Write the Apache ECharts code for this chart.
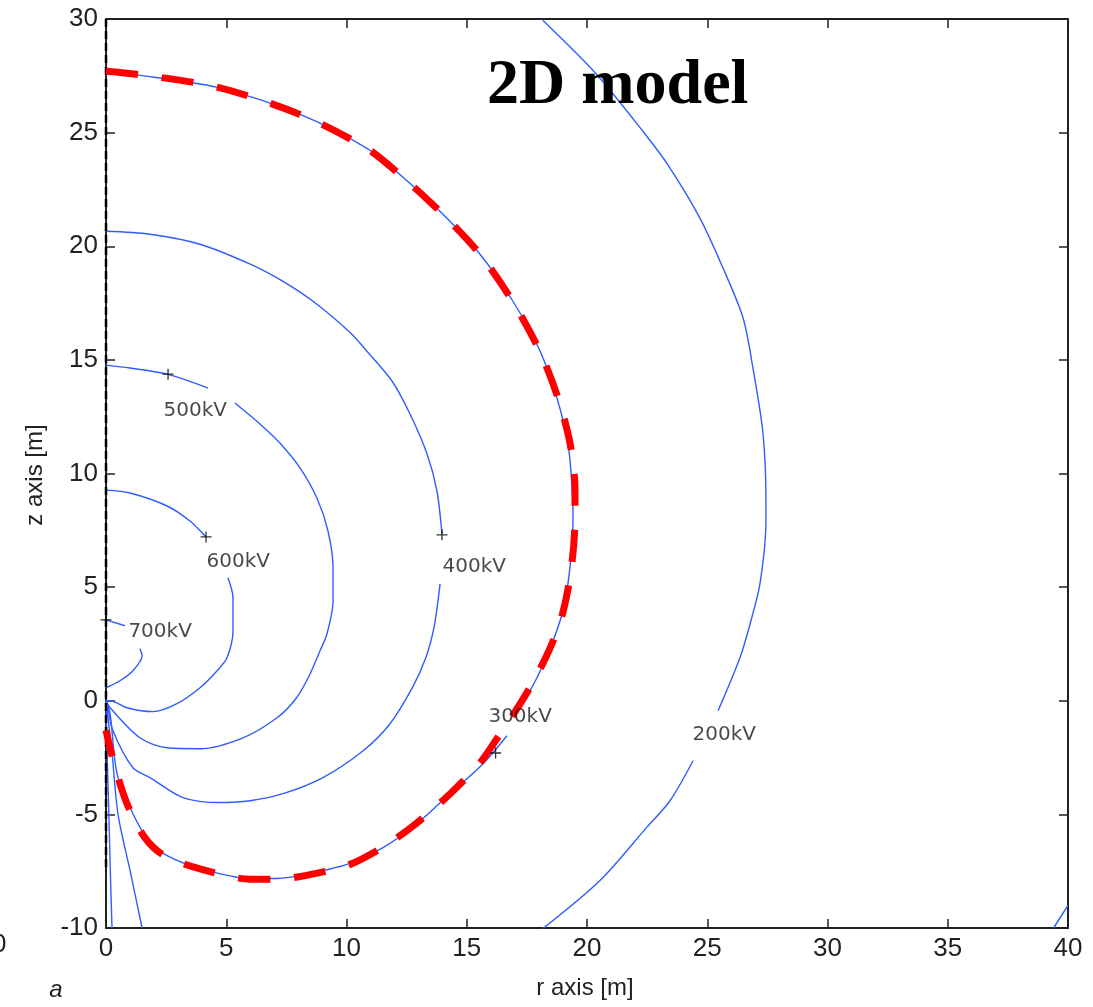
<!DOCTYPE html>
<html>
<head>
<meta charset="utf-8">
<title>2D model</title>
<script src="https://cdn.jsdelivr.net/npm/echarts@6/dist/echarts.min.js"></script>
<style>
  html, body { margin: 0; padding: 0; background: #fff; }
  #chart { width: 1093px; height: 1007px; }
</style>
</head>
<body>
<div id="chart"></div>
<script>
// contour lines, [r, z] in metres; null = gap where a label sits
const c700 = [[0, 3.56], [0.79, 3.30], null, [1.41, 2.29], [1.50, 1.98], [1.12, 1.32], [0.58, 0.88], [0, 0.57]];
const c600 = [[0, 9.27], [1.00, 9.14], [2.54, 8.57], [3.49, 7.91], [4.16, 7.21], null,
  [5.07, 5.41], [5.28, 4.53], [5.28, 3.08], [5.03, 1.89], [4.62, 1.32], [3.91, 0.57],
  [2.95, -0.13], [1.95, -0.48], [0.87, -0.31], [0.17, 0], [0, 0]];
const c500 = [[0, 14.77], [1.00, 14.64], [2.54, 14.37], [4.24, 13.76], null,
  [5.36, 13.10], [6.40, 12.18], [7.23, 11.34], [8.07, 10.24], [8.77, 8.92], [9.23, 7.47],
  [9.44, 5.85], [9.44, 4.40], [9.19, 2.95], [8.9, 2.2], [8.45, 1.1], [7.9, 0.1],
  [7.11, -0.75], [5.70, -1.63], [3.91, -2.11], [2.54, -2.07], [1.41, -1.63], [0.17, -0.31], [0, 0]];
const c400 = [[0, 20.66], [1.83, 20.53], [3.91, 20.09], [6.00, 19.21], [7.36, 18.45], [8.77, 17.45],
  [10.15, 16.2], [10.85, 15.38], [11.89, 14.07], [12.64, 12.62], [13.35, 10.86], [13.76, 9.23],
  [13.97, 7.34], null, [13.89, 5.14], [13.65, 3.3], [13.3, 1.9], [12.75, 0.6], [11.81, -1.01],
  [10.69, -2.20], [9.02, -3.38], [7.36, -4.09], [5.99, -4.40], [4.74, -4.48], [3.20, -4.26],
  [1.83, -3.38], [1.12, -2.95], [0.29, -1.32], [0.04, -0.13], [0, 0]];
const c300 = [[0, 27.65], [1.41, 27.52], [4.62, 26.99], [8.07, 25.80], [10.85, 24.31], [12.22, 23.16],
  [14.01, 21.41], [15.55, 19.65], [16.92, 17.58], [18.05, 15.38], [18.75, 13.32], [19.21, 11.30],
  [19.38, 9.36], [19.42, 8.04], [19.29, 5.85], [19.00, 3.96], [18.54, 2.51], [17.92, 1.01],
  [17.21, -0.31], null, [16.67, -1.54], [15.68, -2.77], [14.30, -4.09], [12.93, -5.41],
  [11.52, -6.46], [10.15, -7.16], [8.48, -7.60], [7.11, -7.82], [5.99, -7.82], [3.91, -7.38],
  [2.54, -6.81], [1.83, -6.24], [1.12, -4.97], [0.46, -3.21], [0.17, -0.57], [0, 0]];
const c200 = [[18.17, 29.93], [20.4, 27.56], [22.33, 25.05], [23.35, 23.6], [24.70, 21.23],
  [25.66, 19.03], [26.49, 16.84], [26.90, 14.64], [27.32, 11.74], [27.44, 8.79], [27.44, 7.91],
  [27.19, 5.14], [26.78, 3.38], [26.36, 1.89], [25.45, -0.44], null, [24.41, -2.64],
  [23.45, -4.40], [22.5, -5.55], [20.54, -7.91], [18.17, -10.02]];
const c200low = [[0, 0], [0.25, -2.3], [0.5, -5.0], [1.0, -7.47], [1.50, -10.0]];
const c100low = [[0, 0], [0.05, -2.5], [0.12, -5.0], [0.18, -7.5], [0.25, -10.0]];
const c100far = [[39.4, -10.0], [40, -9.0]];

// red dashed boundary drawn over the 300 kV line
const boundary = [[0, 27.7], [1.41, 27.55], [4.62, 27.0], [8.07, 25.8], [10.85, 24.3], [12.22, 23.15],
  [14.01, 21.4], [15.55, 19.65], [16.92, 17.55], [18.05, 15.35], [18.8, 13.3], [19.3, 11.3],
  [19.5, 9.3], [19.5, 8.0], [19.35, 5.85], [19.0, 3.9], [18.5, 2.4], [17.8, 0.9], [17.0, -0.5],
  [16.3, -1.6], [15.5, -2.8], [14.3, -4.1], [12.9, -5.4], [11.5, -6.45], [10.15, -7.2],
  [8.48, -7.65], [7.11, -7.85], [5.99, -7.85], [3.91, -7.4], [2.4, -6.8], [1.6, -6.0],
  [0.9, -4.6], [0.45, -3.2], [0.15, -2.0], [0, -1.3]];

const symLine = [[0, 30], [0, -7.5]];

const plusPts = [[0, 3.56], [2.58, 14.37], [4.16, 7.21], [13.97, 7.3], [16.2, -2.3]];
const labelPts = [[2.37, 12.75, '500kV'], [4.16, 6.1, '600kV'], [0.91, 3.05, '700kV'],
  [13.97, 5.9, '400kV'], [15.88, -0.72, '300kV'], [24.37, -1.5, '200kV']];

const xTicks = [0, 40, 5];
const yTicks = [-10, 30, 5];

const blue = '#2f5dff';

function splitSeg(arr) {
  const out = [];
  let cur = [];
  arr.forEach(p => {
    if (p === null) { out.push(cur); cur = []; } else cur.push(p);
  });
  out.push(cur);
  return out;
}

const series = [];
[c700, c600, c500, c400, c300, c200, c200low, c100low, c100far].forEach(c => {
  splitSeg(c).forEach(seg => {
    series.push({
      type: 'line', data: seg, showSymbol: false, symbol: 'none', z: 2, smooth: 0.3,
      lineStyle: { color: blue, width: 1.4 }
    });
  });
});
series.push({
  type: 'line', data: symLine, symbol: 'none', z: 3,
  lineStyle: { color: '#000', width: 2.5, type: [8, 4] }
});
series.push({
  type: 'line', data: boundary, symbol: 'none', z: 4, smooth: 0.3,
  lineStyle: { color: '#ff0000', width: 7, type: [32, 24] }
});
series.push({
  type: 'scatter', data: plusPts, z: 5,
  symbol: 'path://M5,0L5,10M0,5L10,5', symbolSize: 11,
  itemStyle: { color: 'transparent', borderColor: '#000', borderWidth: 1.3 }
});
series.push({
  type: 'scatter', data: labelPts, z: 5, symbolSize: 1,
  itemStyle: { color: 'transparent' },
  label: {
    show: true, position: 'right', distance: 0,
    formatter: p => p.data[2],
    fontFamily: 'DejaVu Sans', fontSize: 20, color: '#1a1a1a'
  }
});

const axisCommon = {
  type: 'value', splitLine: { show: false },
  axisLine: { show: true, onZero: false, lineStyle: { color: '#222', width: 2 } },
  axisTick: { show: true, inside: true, length: 9, lineStyle: { color: '#222', width: 1.5 } }
};

const chart = echarts.init(document.getElementById('chart'), null, { renderer: 'canvas' });
chart.setOption({
  animation: false,
  backgroundColor: '#fff',
  grid: { left: 106, right: 25, top: 19, bottom: 79, containLabel: false },
  xAxis: [
    Object.assign({}, axisCommon, {
      position: 'bottom', min: xTicks[0], max: xTicks[1], interval: xTicks[2],
      axisLabel: { margin: 8, fontFamily: 'Liberation Sans', fontSize: 26, color: '#222' }
    }),
    Object.assign({}, axisCommon, {
      position: 'top', min: xTicks[0], max: xTicks[1], interval: xTicks[2],
      axisLabel: { show: false }
    })
  ],
  yAxis: [
    Object.assign({}, axisCommon, {
      position: 'left', min: yTicks[0], max: yTicks[1], interval: yTicks[2],
      axisLabel: { margin: 8, fontFamily: 'Liberation Sans', fontSize: 26, color: '#222' }
    }),
    Object.assign({}, axisCommon, {
      position: 'right', min: yTicks[0], max: yTicks[1], interval: yTicks[2],
      axisLabel: { show: false }
    })
  ],
  graphic: [
    { type: 'text', left: 487, top: 54, z: 10,
      style: { text: '2D model', font: 'bold 64px "Liberation Serif"', fill: '#000' } },
    { type: 'text', x: 585, y: 988, z: 10,
      style: { text: 'r axis [m]', font: '24px "Liberation Sans"', fill: '#222',
               align: 'center', verticalAlign: 'middle' } },
    { type: 'text', x: 35, y: 475, rotation: Math.PI / 2, z: 10,
      style: { text: 'z axis [m]', font: '24px "Liberation Sans"', fill: '#222',
               align: 'center', verticalAlign: 'middle' } },
    { type: 'text', x: 56, y: 990, z: 10,
      style: { text: 'a', font: 'italic 24px "Liberation Sans"', fill: '#222',
               align: 'center', verticalAlign: 'middle' } },
    { type: 'text', x: -8, y: 945, z: 10,
      style: { text: '0', font: '26px "Liberation Sans"', fill: '#222',
               align: 'left', verticalAlign: 'middle' } }
  ],
  series: series
});
</script>
</body>
</html>
